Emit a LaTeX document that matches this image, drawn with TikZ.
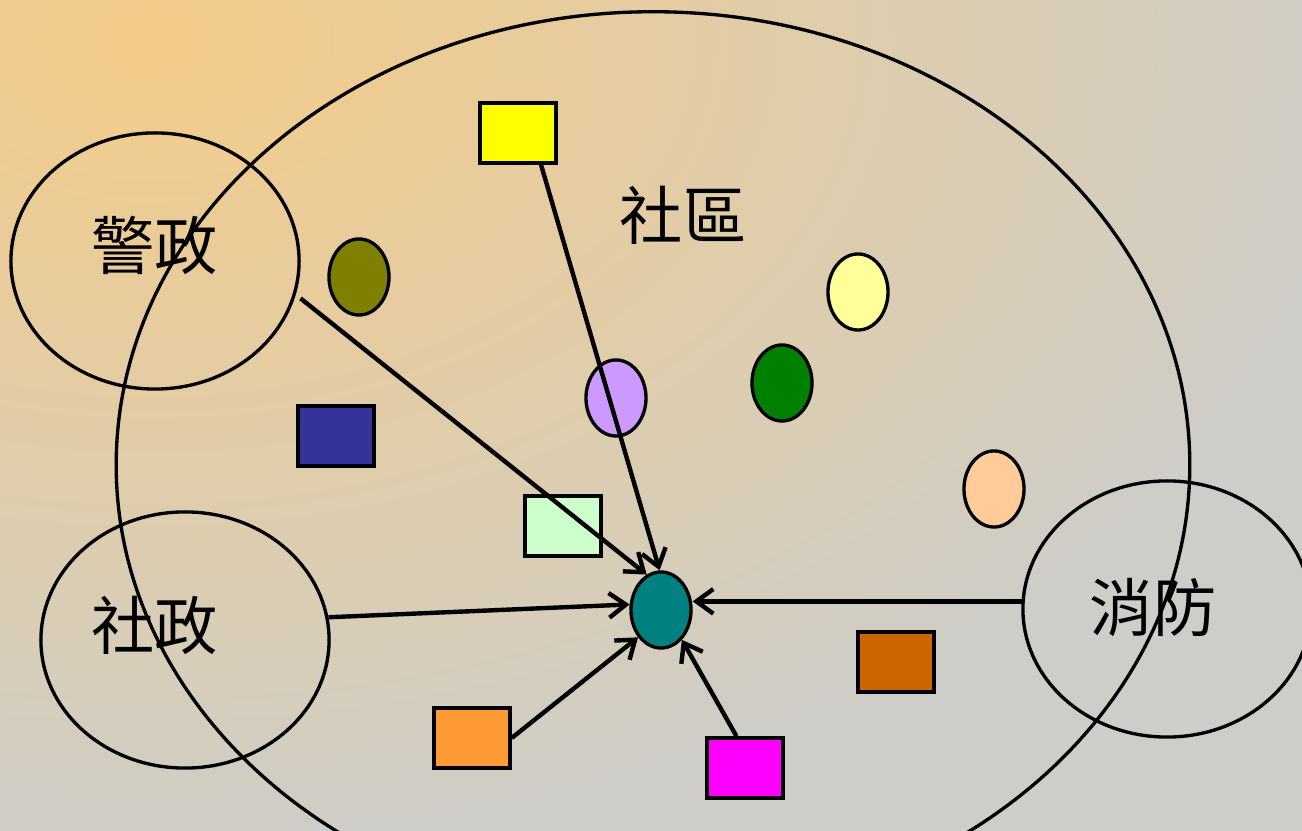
\documentclass[tikz,border=0pt]{standalone}
\usepackage{fontspec}
\newfontfamily\cjk{Noto Sans CJK TC}
\usetikzlibrary{shapes.geometric,arrows.meta}
\definecolor{bgorange}{RGB}{244,204,136}
\definecolor{bggray}{RGB}{206,205,201}
\definecolor{cyellow}{HTML}{FFFF00}
\definecolor{cnavy}{HTML}{333399}
\definecolor{clgreen}{HTML}{CCFFCC}
\definecolor{corange}{HTML}{FF9933}
\definecolor{cmagenta}{HTML}{FF00FF}
\definecolor{cdorange}{HTML}{CC6600}
\definecolor{colive}{HTML}{808000}
\definecolor{clavender}{HTML}{CC99FF}
\definecolor{cgreen}{HTML}{008000}
\definecolor{clyellow}{HTML}{FFFF99}
\definecolor{cpeach}{HTML}{FFCC99}
\definecolor{cteal}{HTML}{008080}
\begin{document}
\begin{tikzpicture}[x=0.01cm,y=-0.01cm,
  outline/.style={draw=black,line width=0.95pt},
  agency/.style={outline,ellipse,minimum width=2.88cm,minimum height=2.56cm,inner sep=0pt},
  box/.style={outline,rectangle,minimum width=0.76cm,minimum height=0.60cm,inner sep=0pt},
  blob/.style={outline,ellipse,minimum width=0.60cm,minimum height=0.76cm,inner sep=0pt},
  word/.style={font=\cjk\fontsize{18pt}{18pt}\selectfont,inner sep=0pt},
  arr/.style={line width=1.25pt,-{Straight Barb[length=4.8pt,width=7pt]}}]
\useasboundingbox (0,0) rectangle (1302,831);
\fill[bggray] (0,0) rectangle (1302,831);
\begin{scope}
  \clip (0,0) rectangle (1302,831);
  \shade[inner color=bgorange, outer color=bggray] (150,40) ellipse (1250 and 820);
\end{scope}

% large community ellipse and agency ellipses
\node[agency,minimum width=10.73cm,minimum height=9.06cm] (community) at (653,465) {};
\node[agency] (police) at (155,261) {};
\node[agency] (social) at (185,640) {};
\node[agency] (fire) at (1167,609) {};

% labels
\node[word] (tcomm) at (683,215) {社區};
\node[word] (tpolice) at (155,245) {警政};
\node[word] (tsocial) at (155,625) {社政};
\node[word] (tfire) at (1153,608) {消防};

% rectangles
\node[box,fill=cyellow] (yellow) at (518,133) {};
\node[box,fill=cnavy] (navy) at (336,436) {};
\node[box,fill=clgreen] (lgreen) at (563,526) {};
\node[box,fill=corange] (orangebox) at (472,738) {};
\node[box,fill=cmagenta] (magenta) at (745,768) {};
\node[box,fill=cdorange] (dorange) at (896,662) {};

% small ellipses
\node[blob,fill=colive] (olive) at (359,277) {};
\node[blob,fill=clavender] (lavender) at (616,398) {};
\node[blob,fill=cgreen] (green) at (782,383) {};
\node[blob,fill=clyellow] (lyellow) at (858,292) {};
\node[blob,fill=cpeach] (peach) at (994,489) {};
\node[blob,fill=cteal] (teal) at (661,610) {};

% arrows
\draw[arr] ([xshift=1.7pt]police.-15) -- (teal.112);
\draw[arr] (yellow.-54) -- (teal.92);
\draw[arr] (social.9) -- (teal.170);
\draw[arr] (fire.177) -- (fire.177 -| teal.east);
\draw[arr] (orangebox.east) -- (teal.230);
\draw[arr] (magenta.105) -- (teal.-55);
\end{tikzpicture}
\end{document}
